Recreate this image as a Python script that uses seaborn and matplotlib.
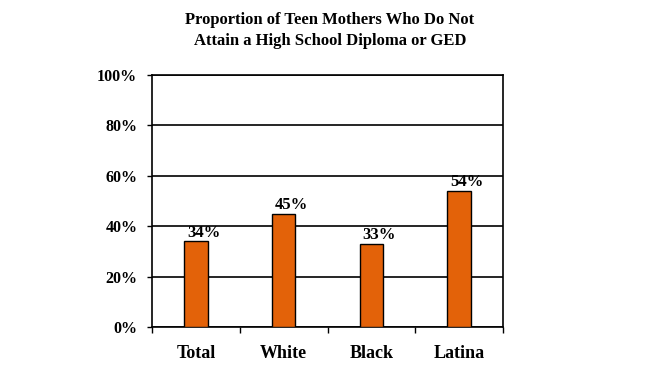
import matplotlib
matplotlib.use("Agg")
import matplotlib.pyplot as plt
import seaborn as sns
import pandas as pd
from matplotlib.ticker import FixedLocator

categories = ["Total", "White", "Black", "Latina"]
values = [34, 45, 33, 54]
yticks = [0, 20, 40, 60, 80, 100]
ytick_labels = ["0%", "20%", "40%", "60%", "80%", "100%"]
value_labels = ["34%", "45%", "33%", "54%"]
title = "Proportion of Teen Mothers Who Do Not\nAttain a High School Diploma or GED"

sns.set_theme(style="white")
plt.rcParams['font.family'] = ['Liberation Serif', 'DejaVu Serif']
plt.rcParams['text.color'] = 'black'
plt.rcParams['xtick.color'] = 'black'
plt.rcParams['ytick.color'] = 'black'
plt.rcParams['axes.labelcolor'] = 'black'

df = pd.DataFrame({"cat": categories, "val": values})

fig = plt.figure(figsize=(6.6, 3.71), dpi=100)
ax = fig.add_axes([152/660, 1-327/371, (503-152)/660, (327-75)/371])

sns.barplot(data=df, x="cat", y="val", color="#E36209", width=0.27,
            edgecolor="black", linewidth=1.0, saturation=1, ax=ax, zorder=3)

ax.set_ylim(0, 100)
ax.set_xlim(-0.5, 3.5)
ax.set_yticks(yticks)
ax.set_yticklabels(ytick_labels, fontsize=11.5, fontweight="bold")
ax.yaxis.grid(True, color="black", linewidth=1.2, zorder=0)
ax.set_axisbelow(True)
ax.tick_params(axis="y", left=True, direction="out", length=3.6, width=1, color="black", pad=7)
ax.tick_params(axis="x", which="major", bottom=False, length=0, pad=13, labelsize=13)
ax.xaxis.set_minor_locator(FixedLocator([-0.5, 0.5, 1.5, 2.5, 3.5]))
ax.tick_params(axis="x", which="minor", bottom=True, direction="out", length=4.5, width=1, color="black")
for lbl in ax.get_xticklabels():
    lbl.set_fontweight("bold")
ax.set_xlabel("")
ax.set_ylabel("")

for s in ax.spines.values():
    s.set_color("black")
    s.set_linewidth(1.2)
    s.set_visible(True)

for i, (v, t) in enumerate(zip(values, value_labels)):
    ax.text(i + 0.09, v + 0.2, t, ha="center", va="bottom", fontsize=12,
            fontweight="bold", color="black")

fig.text(0.5, 1 - 30.5/371, title, ha="center", va="center", fontsize=12,
         fontweight="bold", linespacing=1.45)

fig.savefig("out.png", dpi=100, facecolor="white")
